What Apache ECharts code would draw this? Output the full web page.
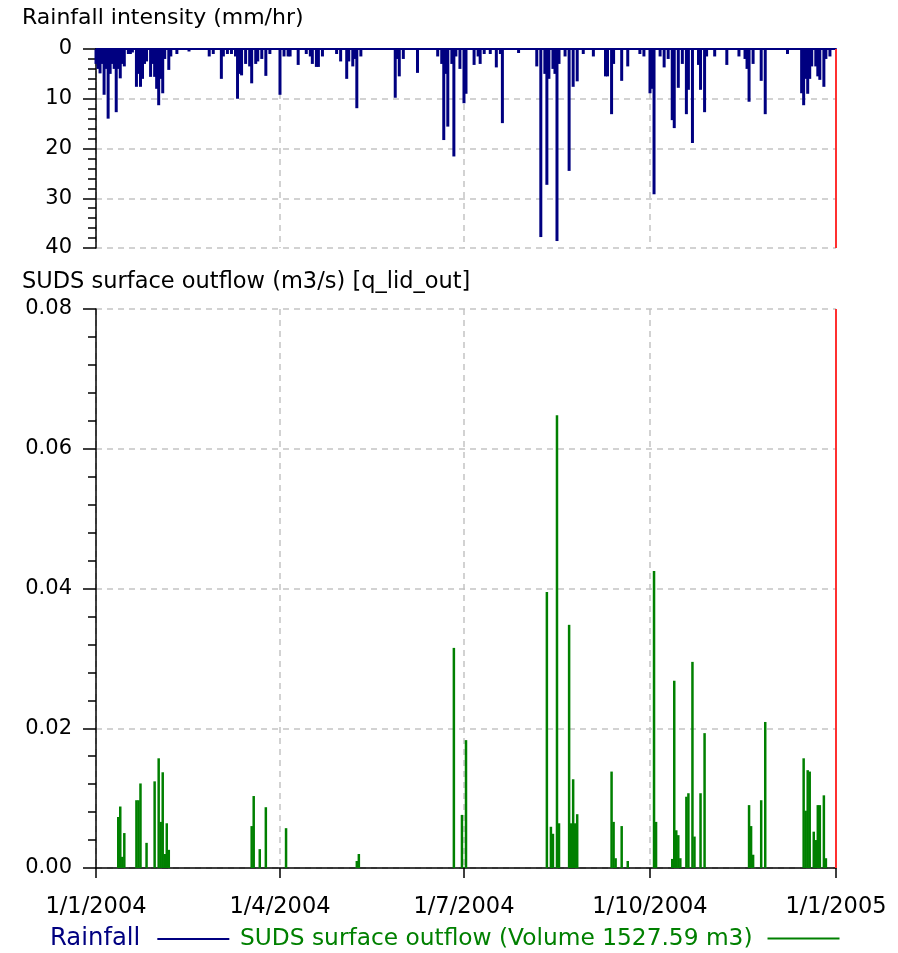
<!DOCTYPE html>
<html>
<head>
<meta charset="utf-8">
<script src="https://cdn.jsdelivr.net/npm/echarts@6/dist/echarts.min.js"></script>
<style>html,body{margin:0;padding:0;background:#fff}#c{width:898px;height:953px}</style>
</head>
<body>
<div id="c"></div>
<script>
// ---- Data ----
const xTicks = ['2004-01-01', '2004-04-01', '2004-07-01', '2004-10-01', '2005-01-01'];
const rainTicks = [0, 10, 20, 30, 40];
const flowTicks = [0, 0.02, 0.04, 0.06, 0.08];

const rainDates = [
 '2004-01-01','2004-01-02','2004-01-03','2004-01-04','2004-01-05','2004-01-06','2004-01-07','2004-01-08','2004-01-09','2004-01-10',
 '2004-01-11','2004-01-12','2004-01-13','2004-01-14','2004-01-15','2004-01-17','2004-01-18','2004-01-19','2004-01-21','2004-01-22',
 '2004-01-23','2004-01-24','2004-01-25','2004-01-26','2004-01-28','2004-01-29','2004-01-30','2004-01-31','2004-02-01','2004-02-02',
 '2004-02-03','2004-02-04','2004-02-06','2004-02-07','2004-02-10','2004-02-16','2004-02-26','2004-02-28','2004-03-03','2004-03-04',
 '2004-03-06','2004-03-08','2004-03-10','2004-03-11','2004-03-12','2004-03-13','2004-03-15','2004-03-17','2004-03-18','2004-03-20',
 '2004-03-21','2004-03-23','2004-03-25','2004-03-27','2004-04-01','2004-04-03','2004-04-05','2004-04-06','2004-04-10','2004-04-14',
 '2004-04-16','2004-04-17','2004-04-19','2004-04-20','2004-04-22','2004-04-29','2004-05-01','2004-05-04','2004-05-05','2004-05-07',
 '2004-05-08','2004-05-09','2004-05-11','2004-05-28','2004-05-29','2004-05-30','2004-06-01','2004-06-08','2004-06-18','2004-06-20',
 '2004-06-21','2004-06-22','2004-06-23','2004-06-25','2004-06-26','2004-06-27','2004-06-29','2004-07-01','2004-07-02','2004-07-06',
 '2004-07-08','2004-07-09','2004-07-11','2004-07-14','2004-07-17','2004-07-19','2004-07-20','2004-07-28','2004-08-06','2004-08-08',
 '2004-08-10','2004-08-11','2004-08-12','2004-08-14','2004-08-15','2004-08-16','2004-08-17','2004-08-20','2004-08-22','2004-08-24',
 '2004-08-26','2004-08-29','2004-09-03','2004-09-09','2004-09-10','2004-09-12','2004-09-13','2004-09-17','2004-09-20','2004-09-26',
 '2004-09-28','2004-10-01','2004-10-02','2004-10-03','2004-10-06','2004-10-08','2004-10-10','2004-10-12','2004-10-13','2004-10-15',
 '2004-10-17','2004-10-19','2004-10-20','2004-10-22','2004-10-25','2004-10-26','2004-10-28','2004-10-29','2004-11-02','2004-11-08',
 '2004-11-14','2004-11-17','2004-11-18','2004-11-19','2004-11-21','2004-11-25','2004-11-27','2004-12-08','2004-12-15','2004-12-16',
 '2004-12-17','2004-12-18','2004-12-19','2004-12-20','2004-12-22','2004-12-23','2004-12-24','2004-12-26','2004-12-27','2004-12-29'
];
const rainValues = [
 3, 4, 4.9, 3, 9.2, 4, 14, 5, 3, 4,
 12.7, 4, 5.9, 3, 3.5, 1, 1, 0.7, 7.6, 5,
 7.6, 6, 3, 2.5, 5.6, 3, 5.6, 8, 11.3, 6,
 8.9, 2, 4.2, 1.5, 1, 0.5, 1.5, 1, 6, 1.5,
 1, 1, 1.5, 10, 5, 5.3, 3, 3.5, 6.9, 3,
 2.5, 2, 5.4, 1, 9.2, 1.5, 1.5, 1.5, 3.2, 1,
 1.5, 3, 3.6, 3.6, 1.5, 1, 2.5, 6, 2.5, 3.5,
 2, 11.9, 1.5, 9.8, 2, 5.5, 2, 4.8, 1.5, 3,
 18.3, 5, 15.6, 3, 21.6, 1.5, 4, 10.9, 9, 3.2,
 1.5, 3, 1, 1, 3.7, 1, 14.9, 0.8, 3.5, 37.8,
 5, 27.3, 6, 4, 5, 38.6, 3, 1.5, 24.5, 7.6,
 6.5, 1, 1.5, 5.5, 5.5, 13.1, 3, 6.4, 3.5, 1,
 1.5, 8.9, 8, 29.2, 1.5, 3.7, 2, 14.3, 15.9, 7.8,
 3, 13.1, 8.2, 18.9, 3.2, 8.2, 12.7, 1.5, 1.5, 3.2,
 1.5, 2, 4, 10.6, 3, 6.4, 13.1, 1, 8.9, 11.3,
 6, 9, 6, 3.5, 3.5, 5.5, 6.2, 7.6, 2, 1.5
];

const flowDates = [
 '2004-01-12','2004-01-13','2004-01-14','2004-01-15','2004-01-21','2004-01-22','2004-01-23','2004-01-26','2004-01-30','2004-02-01',
 '2004-02-02','2004-02-03','2004-02-04','2004-02-05','2004-02-06','2004-03-18','2004-03-19','2004-03-22','2004-03-25','2004-04-04',
 '2004-05-09','2004-05-10','2004-06-26','2004-06-30','2004-07-02','2004-08-11','2004-08-13','2004-08-14','2004-08-16','2004-08-17',
 '2004-08-22','2004-08-23','2004-08-24','2004-08-25','2004-08-26','2004-09-12','2004-09-13','2004-09-14','2004-09-17','2004-09-20',
 '2004-10-03','2004-10-04','2004-10-12','2004-10-13','2004-10-14','2004-10-15','2004-10-16','2004-10-19','2004-10-20','2004-10-22',
 '2004-10-23','2004-10-26','2004-10-28','2004-11-19','2004-11-20','2004-11-21','2004-11-25','2004-11-27','2004-12-16','2004-12-17',
 '2004-12-18','2004-12-19','2004-12-21','2004-12-22','2004-12-23','2004-12-24','2004-12-26','2004-12-27'
];
const flowValues = [
 0.0073, 0.0088, 0.0016, 0.0050, 0.0097, 0.0097, 0.0121, 0.0036, 0.0124, 0.0157,
 0.0066, 0.0137, 0.0020, 0.0064, 0.0026, 0.0060, 0.0103, 0.0027, 0.0087, 0.0057,
 0.0010, 0.0020, 0.0315, 0.0076, 0.0183, 0.0395, 0.0059, 0.0049, 0.0648, 0.0064,
 0.0348, 0.0064, 0.0127, 0.0064, 0.0077, 0.0138, 0.0066, 0.0014, 0.0060, 0.0010,
 0.0425, 0.0066, 0.0013, 0.0268, 0.0054, 0.0047, 0.0014, 0.0102, 0.0107, 0.0295,
 0.0045, 0.0107, 0.0193, 0.0090, 0.0060, 0.0019, 0.0097, 0.0209, 0.0157, 0.0082,
 0.0140, 0.0138, 0.0052, 0.0040, 0.0090, 0.0090, 0.0104, 0.0014
];

const rainName = 'Rainfall';
const flowName = 'SUDS surface outflow (Volume 1527.59 m3)';

// ---- Chart ----
const FONT = 'DejaVu Sans';
const GRIDC = '#c4c4c4';
const ts = s => new Date(s + 'T00:00:00').getTime();
const xTickTs = xTicks.map(ts);
const chart = echarts.init(document.getElementById('c'), null, {renderer: 'canvas'});
const fmtDate = v => { const d = new Date(v); return d.getDate() + '/' + (d.getMonth() + 1) + '/' + d.getFullYear(); };
const dashed = {show: true, lineStyle: {color: GRIDC, type: [6, 5], width: 1.5}};
const legendBase = {top: 927, padding: 0, align: 'right', icon: 'rect', itemWidth: 72, itemHeight: 2};

chart.setOption({
  animation: false,
  textStyle: {fontFamily: FONT},
  title: [
    {text: 'Rainfall intensity (mm/hr)', left: 22, top: 7, padding: 0, textStyle: {fontFamily: FONT, fontSize: 22, fontWeight: 'normal', color: '#000'}},
    {text: 'SUDS surface outflow (m3/s) [q_lid_out]', left: 22, top: 271, padding: 0, textStyle: {fontFamily: FONT, fontSize: 22.5, fontWeight: 'normal', color: '#000'}}
  ],
  grid: [
    {left: 96, right: 62, top: 49, height: 199},
    {left: 96, right: 62, top: 309, height: 559}
  ],
  legend: [
    Object.assign({left: 50, data: [{name: rainName}], textStyle: {fontFamily: FONT, fontSize: 24.3, color: '#000080', padding: [0, 12, 0, 0]}}, legendBase),
    Object.assign({left: 240, data: [{name: flowName}], textStyle: {fontFamily: FONT, fontSize: 23.3, color: '#008000', padding: [0, 10, 0, 0]}}, legendBase)
  ],
  xAxis: [
    {type: 'value', gridIndex: 0, min: xTickTs[0], max: xTickTs[xTickTs.length - 1], position: 'top',
     axisLine: {show: true, onZero: false, lineStyle: {color: '#000080', width: 2}},
     axisTick: {show: false, customValues: xTickTs}, axisLabel: {show: false, customValues: xTickTs},
     splitLine: dashed},
    {type: 'value', gridIndex: 1, min: xTickTs[0], max: xTickTs[xTickTs.length - 1],
     axisLine: {show: true, onZero: false, lineStyle: {color: '#000', width: 1.5}},
     axisTick: {show: true, length: 10, customValues: xTickTs, lineStyle: {color: '#000', width: 1.5}},
     axisLabel: {show: true, customValues: xTickTs, formatter: fmtDate, fontFamily: FONT, fontSize: 22.5, color: '#000', margin: 28, hideOverlap: false},
     splitLine: dashed}
  ],
  yAxis: [
    {type: 'value', gridIndex: 0, min: rainTicks[0], max: rainTicks[rainTicks.length - 1], interval: 10, inverse: true,
     axisLine: {show: true, lineStyle: {color: '#000', width: 1.5}},
     axisTick: {show: true, length: 13, lineStyle: {color: '#000', width: 1.5}},
     minorTick: {show: true, splitNumber: 5, length: 8, lineStyle: {color: '#000', width: 1.5}},
     axisLabel: {fontFamily: FONT, fontSize: 21, color: '#000', margin: 24},
     splitLine: dashed},
    {type: 'value', gridIndex: 1, min: flowTicks[0], max: flowTicks[flowTicks.length - 1], interval: 0.02,
     axisLine: {show: true, lineStyle: {color: '#000', width: 1.5}},
     axisTick: {show: true, length: 13, lineStyle: {color: '#000', width: 1.5}},
     minorTick: {show: true, splitNumber: 5, length: 8, lineStyle: {color: '#000', width: 1.5}},
     axisLabel: {fontFamily: FONT, fontSize: 21, color: '#000', margin: 24, formatter: v => v.toFixed(2)},
     splitLine: dashed}
  ],
  series: [
    {name: rainName, type: 'bar', xAxisIndex: 0, yAxisIndex: 0, barWidth: 3, itemStyle: {color: '#000080'},
     data: rainDates.map((d, i) => [ts(d), rainValues[i]]),
     markLine: {silent: true, symbol: 'none', label: {show: false}, lineStyle: {color: '#ff3030', width: 2, type: 'solid'},
       data: [{xAxis: xTickTs[xTickTs.length - 1]}]}},
    {name: flowName, type: 'bar', xAxisIndex: 1, yAxisIndex: 1, barWidth: 2.5, itemStyle: {color: '#008000'},
     data: flowDates.map((d, i) => [ts(d), flowValues[i]]),
     markLine: {silent: true, symbol: 'none', label: {show: false}, lineStyle: {color: '#ff3030', width: 2, type: 'solid'},
       data: [{xAxis: xTickTs[xTickTs.length - 1]}]}}
  ]
});
</script>
</body>
</html>
